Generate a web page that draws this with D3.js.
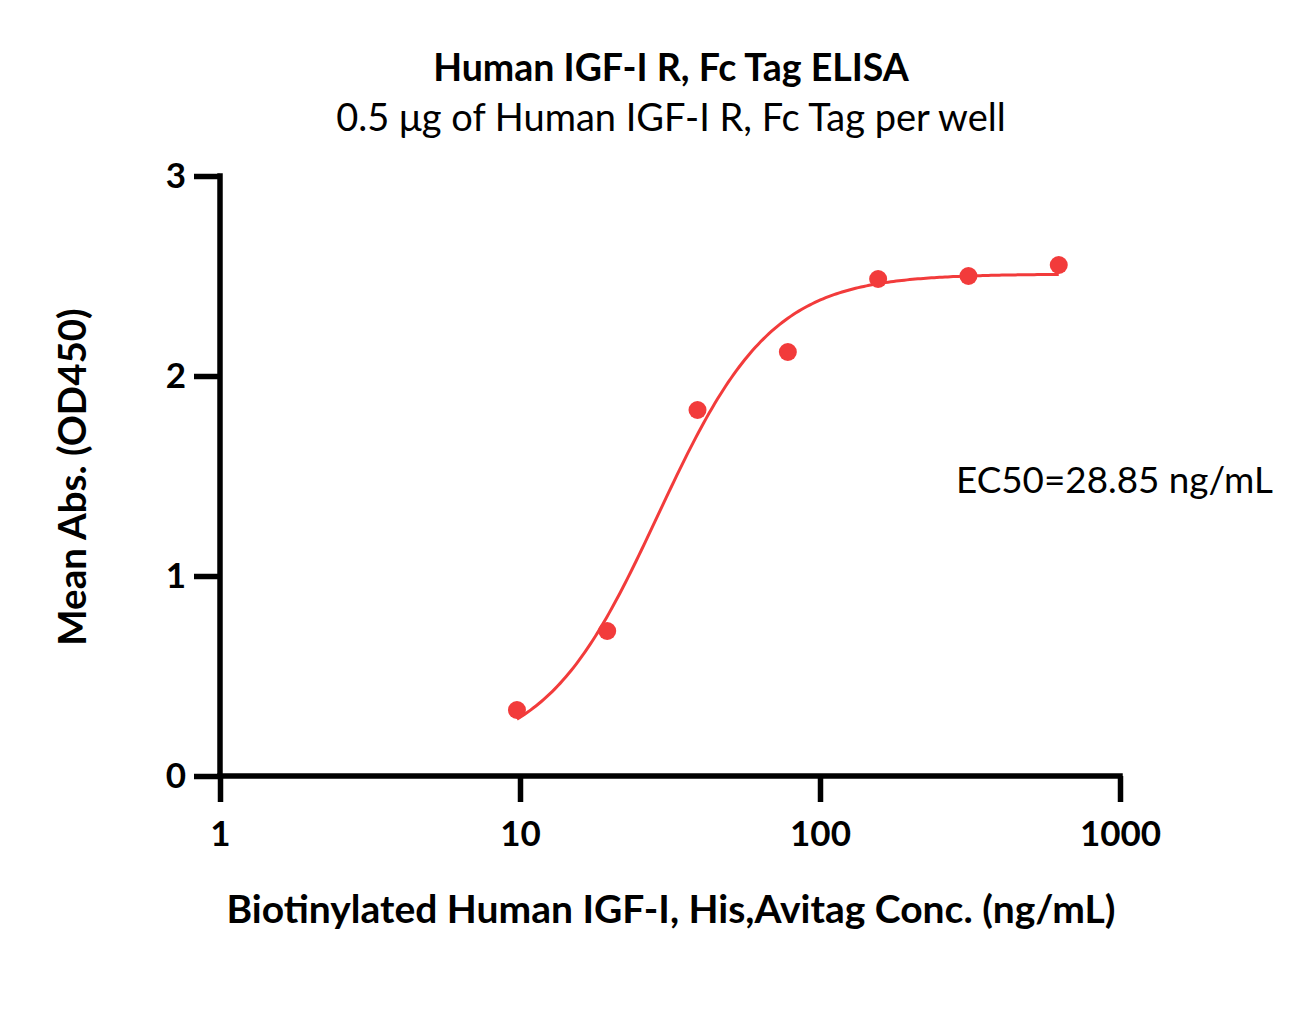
<!DOCTYPE html>
<html><head><meta charset="utf-8">
<script src="https://cdn.jsdelivr.net/npm/d3@7"></script>
<style>body{margin:0;background:#fff}text{font-family:Lato,"Open Sans",sans-serif}</style>
</head><body><svg id="c" width="1316" height="1029"></svg>
<script>
const concentrations = [9.77, 19.53, 39.06, 78.13, 156.25, 312.5, 625];
const meanAbs = [0.33, 0.725, 1.83, 2.12, 2.485, 2.50, 2.555];
const xTicks = [1, 10, 100, 1000];
const yTicks = [0, 1, 2, 3];
// 4PL fit parameters (bottom, top, EC50, hill)
const fitBottom = 0.1, fitTop = 2.51, fitEC50 = 28.85, fitHill = 2.3;

const svg = d3.select("#c");
const x = d3.scaleLog().domain([1, 1000]).range([220, 1120]);
const y = d3.scaleLinear().domain([0, 3]).range([776, 176]);
const red = "#f23b3b";

const xAxis = svg.append("g").attr("transform", "translate(0,776)")
  .call(d3.axisBottom(x).tickValues(xTicks).tickFormat(d3.format("d")).tickSize(26).tickPadding(19).tickSizeOuter(0));
const yAxis = svg.append("g").attr("transform", "translate(220,0)")
  .call(d3.axisLeft(y).tickValues(yTicks).tickFormat(d3.format("d")).tickSize(26).tickPadding(8).tickSizeOuter(0));
[xAxis, yAxis].forEach(a => {
  a.select(".domain").attr("stroke", "#000").attr("stroke-width", 5.5);
  a.selectAll(".tick line").attr("stroke", "#000").attr("stroke-width", 5.5);
  a.selectAll(".tick text").attr("fill", "#000").style("font-size", "35px").style("font-weight", "bold");
});
xAxis.select(".domain").attr("d", `M${x(1)-2.75},0H${x(1000)+2.75}`);
yAxis.select(".domain").attr("d", `M0,${y(3)-2.75}V${y(0)}`);

const fourPL = c => fitBottom + (fitTop - fitBottom) / (1 + Math.pow(fitEC50 / c, fitHill));
const lx0 = Math.log10(concentrations[0]), lx1 = Math.log10(concentrations[concentrations.length-1]);
const curve = d3.range(0, 201).map(i => { const c = Math.pow(10, lx0 + (lx1 - lx0) * i / 200); return [c, fourPL(c)]; });
svg.append("path").datum(curve)
  .attr("d", d3.line().x(d => x(d[0])).y(d => y(d[1])))
  .attr("fill", "none").attr("stroke", red).attr("stroke-width", 3);

svg.selectAll("circle.pt").data(concentrations).enter().append("circle")
  .attr("class", "pt").attr("cx", d => x(d)).attr("cy", (d, i) => y(meanAbs[i])).attr("r", 9).attr("fill", red);

svg.append("text").attr("x", 671).attr("y", 81).attr("text-anchor", "middle")
  .style("font-size", "37.5px").style("font-weight", "bold").text("Human IGF-I R, Fc Tag ELISA");
svg.append("text").attr("x", 671).attr("y", 131).attr("text-anchor", "middle")
  .style("font-size", "38px").text("0.5 μg of Human IGF-I R, Fc Tag per well");
svg.append("text").attr("x", 671).attr("y", 923).attr("text-anchor", "middle")
  .style("font-size", "39px").style("font-weight", "bold").text("Biotinylated Human IGF-I, His,Avitag Conc. (ng/mL)");
svg.append("text").attr("transform", "translate(86,477) rotate(-90)").attr("text-anchor", "middle")
  .style("font-size", "38.5px").style("font-weight", "bold").text("Mean Abs. (OD450)");
svg.append("text").attr("x", 956).attr("y", 493)
  .style("font-size", "36.8px").text("EC50=28.85 ng/mL");
</script></body></html>
